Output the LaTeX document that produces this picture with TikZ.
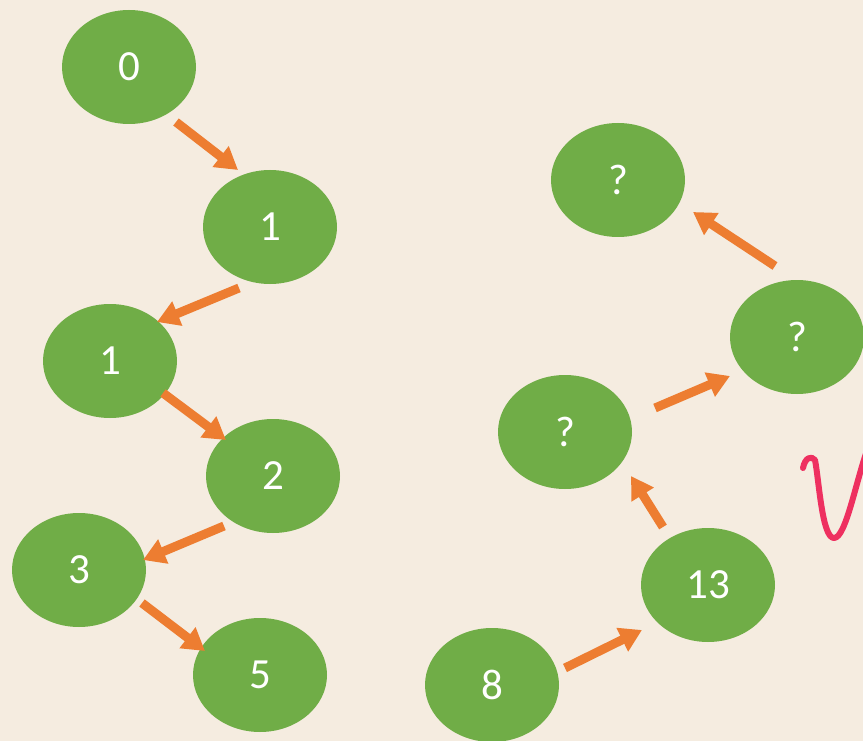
\documentclass[tikz,border=0pt]{standalone}
\usepackage{fontspec}
\setmainfont{Carlito}
\usetikzlibrary{arrows.meta,shapes.geometric}
\definecolor{bg}{HTML}{F5ECE0}
\definecolor{nodegreen}{HTML}{70AD47}
\definecolor{arroworange}{HTML}{ED7D31}
\definecolor{pinkink}{HTML}{EE3060}
\tikzset{
  num/.style={ellipse, fill=nodegreen, minimum width=134pt, minimum height=114pt, inner sep=0pt, text=white, font=\fontsize{43}{43}\selectfont},
  link/.style={draw=arroworange, line width=9pt, -{Triangle[width=25pt,length=22pt]}},
}
\begin{document}
\begin{tikzpicture}[x=1pt,y=-1pt]
\useasboundingbox (0,0) rectangle (863,741);
\fill[bg] (0,0) rectangle (863,741);
\begin{scope}
\clip (0,0) rectangle (863,741);
% nodes
\node[num] (n0) at (129,67) {0};
\node[num] (n1) at (270,227) {1};
\node[num] (n1b) at (110,361) {1};
\node[num] (n2) at (273,476) {2};
\node[num] (n3) at (79,570) {3};
\node[num] (n5) at (260,675) {5};
\node[num] (n8) at (492,685) {8};
\node[num] (n13) at (708,585) {13};
\node[num] (qa) at (565,432) {?};
\node[num] (qb) at (797,337) {?};
\node[num] (qc) at (618,180) {?};
% arrow ends
\coordinate (a1s) at (176,122); \coordinate (a1e) at (238,170);
\coordinate (a2s) at (239,288); \coordinate (a2e) at (157,322);
\coordinate (a3s) at (163,393); \coordinate (a3e) at (226,440);
\coordinate (a4s) at (224,526); \coordinate (a4e) at (143,560);
\coordinate (a5s) at (142,603); \coordinate (a5e) at (205,651);
\coordinate (a6s) at (565,668); \coordinate (a6e) at (642,630);
\coordinate (a7s) at (663,527); \coordinate (a7e) at (631,476);
\coordinate (a8s) at (655,408); \coordinate (a8e) at (730,376);
\coordinate (a9s) at (775,266); \coordinate (a9e) at (693,212);
\draw[link] (a1s) -- (a1e);
\draw[link] (a2s) -- (a2e);
\draw[link] (a3s) -- (a3e);
\draw[link] (a4s) -- (a4e);
\draw[link] (a5s) -- (a5e);
\draw[link] (a6s) -- (a6e);
\draw[link] (a7s) -- (a7e);
\draw[link] (a8s) -- (a8e);
\draw[link] (a9s) -- (a9e);
% handwritten stroke
\draw[pinkink, line width=6pt, line cap=round, line join=round]
  (803,468) .. controls (805,458) and (811,455) .. (815,460)
  .. controls (819,480) and (822,538) .. (834,538)
  .. controls (846,538) and (856,480) .. (868,448);
\end{scope}
\end{tikzpicture}
\end{document}
